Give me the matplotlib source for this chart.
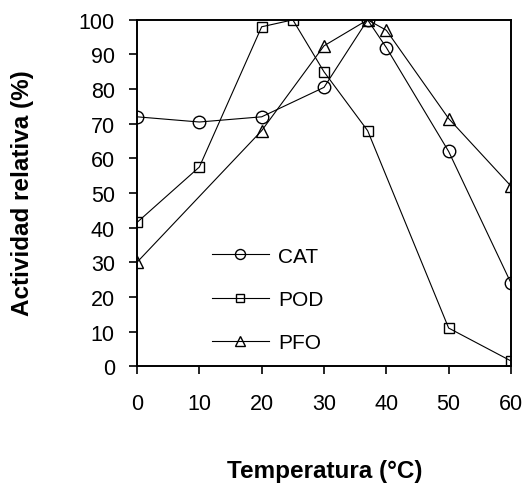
import matplotlib.pyplot as plt
import numpy as np

plt.rcParams['font.family'] = ['Liberation Sans', 'DejaVu Sans']

# Temperatures and relative activity
cat_t = [0, 10, 20, 30, 37, 40, 50, 60]
cat_y = [72, 70.5, 72, 80.5, 100, 92, 62, 24]

pod_t = [0, 10, 20, 25, 30, 37, 50, 60]
pod_y = [41.5, 57.5, 98, 100, 85, 68, 11, 1.5]

pfo_t = [0, 20, 30, 37, 40, 50, 60]
pfo_y = [30, 68, 92.5, 100, 97, 71.5, 52]

xticks = [0, 10, 20, 30, 40, 50, 60]
yticks = list(range(0, 101, 10))


def plot_activity():
    """Draws the three enzyme curves"""
    fig = plt.figure(figsize=(5.23, 4.85), dpi=100)
    ax = fig.add_axes([0.262, 0.243, 0.715, 0.714])
    style = dict(color="black", linewidth=0.8, markerfacecolor="none",
                 markeredgecolor="black", markeredgewidth=1.0)
    ax.plot(cat_t, cat_y, marker="o", markersize=9, label="CAT", **style)
    ax.plot(pod_t, pod_y, marker="s", markersize=7.5, label="POD", **style)
    ax.plot(pfo_t, pfo_y, marker="^", markersize=8.5, label="PFO", **style)

    ax.set_xlim(0, 60)
    ax.set_ylim(0, 100)
    ax.set_xticks(xticks)
    ax.set_yticks(yticks)
    ax.tick_params(direction="out", length=6, width=1.2, labelsize=15.5,
                   colors="black")
    ax.tick_params(axis="x", pad=13)
    ax.tick_params(axis="y", pad=10)
    for s in ax.spines.values():
        s.set_linewidth(1.4)

    ax.set_xlabel("Temperatura (°C)", fontsize=17.5, fontweight="bold")
    ax.set_ylabel("Actividad relativa (%)", fontsize=17.5, fontweight="bold")
    ax.xaxis.set_label_coords(0.503, -0.30)
    ax.yaxis.set_label_coords(-0.305, 0.503)
    ax.xaxis.label.set_va("center")
    ax.yaxis.label.set_va("center")

    ax.legend(loc="upper left", bbox_to_anchor=(0.2, 0.345), frameon=False,
              fontsize=15, handlelength=2.75, handletextpad=0.45,
              labelspacing=1.17, borderpad=0, borderaxespad=0, markerscale=0.8)
    fig.savefig("out.png", dpi=100)


plot_activity()
